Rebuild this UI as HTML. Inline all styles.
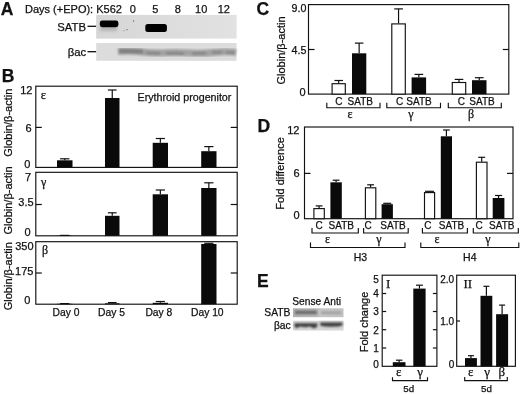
<!DOCTYPE html>
<html><head><meta charset="utf-8"><title>Figure</title>
<style>html,body{margin:0;padding:0;background:#fff}svg{display:block}text{stroke:#111;stroke-width:0.25px}</style></head>
<body>
<svg width="520" height="394" viewBox="0 0 520 394" font-family="Liberation Sans, Arial, Helvetica, sans-serif" fill="#111">
<defs>
<filter id="b1" x="-20%" y="-50%" width="140%" height="200%"><feGaussianBlur stdDeviation="0.6"/></filter>
<filter id="b2" x="-20%" y="-100%" width="140%" height="300%"><feGaussianBlur stdDeviation="1.2"/></filter>
<filter id="n1" x="0" y="0" width="100%" height="100%"><feGaussianBlur stdDeviation="0.4"/></filter>
<filter id="b3" x="-20%" y="-100%" width="140%" height="300%"><feGaussianBlur stdDeviation="1.5"/></filter>
<linearGradient id="gE1" x1="0" x2="1" y1="0" y2="0"><stop offset="0" stop-color="#b2b2b2"/><stop offset="0.45" stop-color="#b8b8b8"/><stop offset="0.55" stop-color="#c6c6c6"/><stop offset="1" stop-color="#c2c2c2"/></linearGradient>
<linearGradient id="gA1" x1="0" x2="1" y1="0" y2="0"><stop offset="0" stop-color="#d6d6d6"/><stop offset="0.5" stop-color="#dcdcdc"/><stop offset="1" stop-color="#e2e2e2"/></linearGradient>
</defs>
<rect width="520" height="394" fill="#fff"/>
<text x="0.8" y="14.6" font-size="17.5" text-anchor="start" font-weight="bold">A</text>
<text x="25" y="13" font-size="11" text-anchor="start">Days (+EPO): K562</text>
<text x="132.8" y="13" font-size="11" text-anchor="middle">0</text>
<text x="155.2" y="13" font-size="11" text-anchor="middle">5</text>
<text x="177.7" y="13" font-size="11" text-anchor="middle">8</text>
<text x="201.2" y="13" font-size="11" text-anchor="middle">10</text>
<text x="223.8" y="13" font-size="11" text-anchor="middle">12</text>
<text x="57.3" y="31" font-size="11.3" text-anchor="start">SATB</text>
<line x1="87.5" y1="26.3" x2="96.5" y2="26.3" stroke="#111" stroke-width="1.3"/>
<text x="67.8" y="55.6" font-size="11.3" text-anchor="start">βac</text>
<line x1="87.5" y1="51.7" x2="96.5" y2="51.7" stroke="#111" stroke-width="1.3"/>
<g filter="url(#n1)">
<rect x="96.2" y="14.9" width="140.4" height="23.7" fill="url(#gA1)"/>
<rect x="96.2" y="43" width="140.4" height="17.8" fill="#dcdcdc"/>
</g>
<g filter="url(#b3)"><rect x="100" y="26" width="17" height="5" fill="#b4b4b4"/></g>
<g filter="url(#b1)">
<rect x="99.8" y="20.6" width="18.6" height="6.6" rx="2.4" fill="#000"/>
<rect x="145.3" y="24" width="21.6" height="8" rx="2.5" fill="#000"/>
<circle cx="133.5" cy="21" r="0.7" fill="#666"/><circle cx="127" cy="29.7" r="0.6" fill="#555"/><circle cx="124" cy="30.8" r="0.5" fill="#777"/>
</g>
<g filter="url(#b2)">
<path d="M118 51.5 Q130 50.5 142 52 T166 52.8 T190 53 T214 52.5 T236 52.5" fill="none" stroke="#a2a2a2" stroke-width="7"/>
<path d="M119 51 L143 51.6" fill="none" stroke="#808080" stroke-width="4.5"/>
<path d="M146 53 L160 53.4 M166 53.2 L184 53.6 M192 53.6 L206 53 M212 52 L222 52.6 M226 52.5 L235 52.8" fill="none" stroke="#858585" stroke-width="2.6"/>
</g>
<text x="1.8" y="82.3" font-size="17.5" text-anchor="start" font-weight="bold">B</text>
<rect x="35.8" y="86.2" width="201.39999999999998" height="81.2" fill="none" stroke="#111" stroke-width="1.15"/>
<line x1="35.8" y1="127.4" x2="41.8" y2="127.4" stroke="#111" stroke-width="1.2"/>
<line x1="230.7" y1="127.4" x2="237.2" y2="127.4" stroke="#111" stroke-width="1.2"/>
<rect x="35.8" y="172.3" width="201.39999999999998" height="63.5" fill="none" stroke="#111" stroke-width="1.15"/>
<line x1="35.8" y1="204.5" x2="41.8" y2="204.5" stroke="#111" stroke-width="1.2"/>
<line x1="230.7" y1="204.5" x2="237.2" y2="204.5" stroke="#111" stroke-width="1.2"/>
<rect x="35.8" y="241.7" width="201.39999999999998" height="62.5" fill="none" stroke="#111" stroke-width="1.15"/>
<line x1="35.8" y1="273" x2="41.8" y2="273" stroke="#111" stroke-width="1.2"/>
<line x1="230.7" y1="273" x2="237.2" y2="273" stroke="#111" stroke-width="1.2"/>
<text x="32.4" y="94.4" font-size="11" text-anchor="end">12</text>
<text x="31.5" y="132.3" font-size="11" text-anchor="end">6</text>
<text x="30.4" y="167.7" font-size="11" text-anchor="end">0</text>
<text x="31" y="180.5" font-size="11" text-anchor="end">7</text>
<text x="33.6" y="206.4" font-size="11" text-anchor="end">3.5</text>
<text x="30.5" y="236.3" font-size="11" text-anchor="end">0</text>
<text x="33.6" y="250.2" font-size="11" text-anchor="end">350</text>
<text x="33.4" y="275.4" font-size="11" text-anchor="end">175</text>
<text x="30.4" y="303.6" font-size="11" text-anchor="end">0</text>
<text transform="translate(11.7,122.7) rotate(-90)" font-size="11" text-anchor="middle">Globin/β-actin</text>
<text transform="translate(11.7,200.4) rotate(-90)" font-size="11" text-anchor="middle">Globin/β-actin</text>
<text transform="translate(11.7,276.2) rotate(-90)" font-size="11" text-anchor="middle">Globin/β-actin</text>
<text x="40.8" y="98.6" font-size="12.5" text-anchor="start" font-family="Liberation Serif, Times New Roman, serif">ε</text>
<text x="41" y="185.5" font-size="12" text-anchor="start" font-family="Liberation Serif, Times New Roman, serif">γ</text>
<text x="42" y="254" font-size="12" text-anchor="start" font-family="Liberation Serif, Times New Roman, serif">β</text>
<text x="137.5" y="100.5" font-size="10.7" text-anchor="start">Erythroid progenitor</text>
<line x1="64.75" y1="158.8" x2="64.75" y2="160.3" stroke="#111" stroke-width="1.2"/>
<line x1="60.1" y1="158.8" x2="69.4" y2="158.8" stroke="#111" stroke-width="1.2"/>
<rect x="57" y="160.3" width="15.5" height="7.099999999999994" fill="#0a0a0a"/>
<line x1="112.25" y1="90" x2="112.25" y2="98" stroke="#111" stroke-width="1.2"/>
<line x1="107.9" y1="90" x2="116.6" y2="90" stroke="#111" stroke-width="1.2"/>
<rect x="105" y="98" width="14.5" height="69.4" fill="#0a0a0a"/>
<line x1="160.35" y1="138.5" x2="160.35" y2="142.8" stroke="#111" stroke-width="1.2"/>
<line x1="155.76" y1="138.5" x2="164.94" y2="138.5" stroke="#111" stroke-width="1.2"/>
<rect x="152.7" y="142.8" width="15.300000000000011" height="24.599999999999994" fill="#0a0a0a"/>
<line x1="208.85" y1="146.6" x2="208.85" y2="151.2" stroke="#111" stroke-width="1.2"/>
<line x1="204.26" y1="146.6" x2="213.44" y2="146.6" stroke="#111" stroke-width="1.2"/>
<rect x="201.2" y="151.2" width="15.300000000000011" height="16.200000000000017" fill="#0a0a0a"/>
<line x1="64.75" y1="235.4" x2="64.75" y2="235.6" stroke="#111" stroke-width="1.2"/>
<line x1="60.1" y1="235.4" x2="69.4" y2="235.4" stroke="#111" stroke-width="1.2"/>
<rect x="57" y="235.6" width="15.5" height="0.20000000000001705" fill="#0a0a0a"/>
<line x1="112.25" y1="212.8" x2="112.25" y2="215.8" stroke="#111" stroke-width="1.2"/>
<line x1="107.9" y1="212.8" x2="116.6" y2="212.8" stroke="#111" stroke-width="1.2"/>
<rect x="105" y="215.8" width="14.5" height="20.0" fill="#0a0a0a"/>
<line x1="160.35" y1="190" x2="160.35" y2="194.3" stroke="#111" stroke-width="1.2"/>
<line x1="155.76" y1="190" x2="164.94" y2="190" stroke="#111" stroke-width="1.2"/>
<rect x="152.7" y="194.3" width="15.300000000000011" height="41.5" fill="#0a0a0a"/>
<line x1="208.85" y1="182.8" x2="208.85" y2="188" stroke="#111" stroke-width="1.2"/>
<line x1="204.26" y1="182.8" x2="213.44" y2="182.8" stroke="#111" stroke-width="1.2"/>
<rect x="201.2" y="188" width="15.300000000000011" height="47.80000000000001" fill="#0a0a0a"/>
<line x1="64.75" y1="303.6" x2="64.75" y2="303.8" stroke="#111" stroke-width="1.2"/>
<line x1="60.1" y1="303.6" x2="69.4" y2="303.6" stroke="#111" stroke-width="1.2"/>
<rect x="57" y="303.8" width="15.5" height="0.39999999999997726" fill="#0a0a0a"/>
<line x1="112.25" y1="302.6" x2="112.25" y2="303.3" stroke="#111" stroke-width="1.2"/>
<line x1="107.9" y1="302.6" x2="116.6" y2="302.6" stroke="#111" stroke-width="1.2"/>
<rect x="105" y="303.3" width="14.5" height="0.8999999999999773" fill="#0a0a0a"/>
<line x1="160.35" y1="301.5" x2="160.35" y2="302.8" stroke="#111" stroke-width="1.2"/>
<line x1="155.76" y1="301.5" x2="164.94" y2="301.5" stroke="#111" stroke-width="1.2"/>
<rect x="152.7" y="302.8" width="15.300000000000011" height="1.3999999999999773" fill="#0a0a0a"/>
<line x1="208.85" y1="243.3" x2="208.85" y2="244" stroke="#111" stroke-width="1.2"/>
<line x1="204.26" y1="243.3" x2="213.44" y2="243.3" stroke="#111" stroke-width="1.2"/>
<rect x="201.2" y="244" width="15.300000000000011" height="60.19999999999999" fill="#0a0a0a"/>
<text x="66" y="316.1" font-size="10.3" text-anchor="middle">Day 0</text>
<text x="111.5" y="316.1" font-size="10.3" text-anchor="middle">Day 5</text>
<text x="158.9" y="316.1" font-size="10.3" text-anchor="middle">Day 8</text>
<text x="207.3" y="316.1" font-size="10.3" text-anchor="middle">Day 10</text>
<text x="256.5" y="14.8" font-size="17.5" text-anchor="start" font-weight="bold">C</text>
<rect x="308.5" y="4.6" width="200.3" height="89.5" fill="none" stroke="#111" stroke-width="1.15"/>
<line x1="308.5" y1="49.5" x2="314.5" y2="49.5" stroke="#111" stroke-width="1.2"/>
<line x1="502.8" y1="49.5" x2="508.8" y2="49.5" stroke="#111" stroke-width="1.2"/>
<text x="306.4" y="12.2" font-size="10.7" text-anchor="end">9.0</text>
<text x="306.4" y="53.9" font-size="10.7" text-anchor="end">4.5</text>
<text x="305.7" y="96" font-size="11" text-anchor="end">0</text>
<text transform="translate(284.6,50.5) rotate(-90)" font-size="11" text-anchor="middle">Globin/β-actin</text>
<line x1="338.70000000000005" y1="80.5" x2="338.70000000000005" y2="83.2" stroke="#111" stroke-width="1.2"/>
<line x1="334.44000000000005" y1="80.5" x2="342.96000000000004" y2="80.5" stroke="#111" stroke-width="1.2"/>
<rect x="332.1" y="83.7" width="13.199999999999989" height="10.399999999999991" fill="#fff" stroke="#111" stroke-width="1.15"/>
<line x1="359.15" y1="43.1" x2="359.15" y2="53.3" stroke="#111" stroke-width="1.2"/>
<line x1="354.85999999999996" y1="43.1" x2="363.44" y2="43.1" stroke="#111" stroke-width="1.2"/>
<rect x="352" y="53.3" width="14.300000000000011" height="40.8" fill="#0a0a0a"/>
<line x1="398.55" y1="8.9" x2="398.55" y2="23.4" stroke="#111" stroke-width="1.2"/>
<line x1="394.2" y1="8.9" x2="402.90000000000003" y2="8.9" stroke="#111" stroke-width="1.2"/>
<rect x="391.8" y="23.9" width="13.5" height="70.19999999999999" fill="#fff" stroke="#111" stroke-width="1.15"/>
<line x1="418.85" y1="74.4" x2="418.85" y2="77.4" stroke="#111" stroke-width="1.2"/>
<line x1="414.5" y1="74.4" x2="423.20000000000005" y2="74.4" stroke="#111" stroke-width="1.2"/>
<rect x="411.6" y="77.4" width="14.5" height="16.69999999999999" fill="#0a0a0a"/>
<line x1="459.0" y1="79.4" x2="459.0" y2="82" stroke="#111" stroke-width="1.2"/>
<line x1="454.68" y1="79.4" x2="463.32" y2="79.4" stroke="#111" stroke-width="1.2"/>
<rect x="452.3" y="82.5" width="13.399999999999977" height="11.599999999999994" fill="#fff" stroke="#111" stroke-width="1.15"/>
<line x1="479.25" y1="77.7" x2="479.25" y2="80.2" stroke="#111" stroke-width="1.2"/>
<line x1="474.9" y1="77.7" x2="483.6" y2="77.7" stroke="#111" stroke-width="1.2"/>
<rect x="472" y="80.2" width="14.5" height="13.899999999999991" fill="#0a0a0a"/>
<polyline points="326.8,102.8 326.8,107.7 380,107.7 380,102.8" fill="none" stroke="#111" stroke-width="1.15"/>
<text x="338.8" y="104.5" font-size="10" text-anchor="middle">C</text>
<text x="360.3" y="104.5" font-size="10" text-anchor="middle">SATB</text>
<text x="350" y="118" font-size="12" text-anchor="middle" font-family="Liberation Serif, Times New Roman, serif">ε</text>
<polyline points="386.8,102.8 386.8,107.7 440.5,107.7 440.5,102.8" fill="none" stroke="#111" stroke-width="1.15"/>
<text x="399.6" y="104.5" font-size="10" text-anchor="middle">C</text>
<text x="419" y="104.5" font-size="10" text-anchor="middle">SATB</text>
<text x="411" y="118" font-size="12" text-anchor="middle" font-family="Liberation Serif, Times New Roman, serif">γ</text>
<polyline points="448.3,102.8 448.3,107.7 501.3,107.7 501.3,102.8" fill="none" stroke="#111" stroke-width="1.15"/>
<text x="461.3" y="104.5" font-size="10" text-anchor="middle">C</text>
<text x="482" y="104.5" font-size="10" text-anchor="middle">SATB</text>
<text x="471" y="118" font-size="12" text-anchor="middle" font-family="Liberation Serif, Times New Roman, serif">β</text>
<text x="257.5" y="131.8" font-size="17.5" text-anchor="start" font-weight="bold">D</text>
<rect x="304.5" y="127" width="208.5" height="91.69999999999999" fill="none" stroke="#111" stroke-width="1.15"/>
<line x1="304.5" y1="173.4" x2="310.5" y2="173.4" stroke="#111" stroke-width="1.2"/>
<line x1="507" y1="173.4" x2="513" y2="173.4" stroke="#111" stroke-width="1.2"/>
<text x="299.5" y="134" font-size="11" text-anchor="end">12</text>
<text x="299.5" y="177.3" font-size="11" text-anchor="end">6</text>
<text x="299.7" y="219.3" font-size="11" text-anchor="end">0</text>
<text transform="translate(284.3,173.5) rotate(-90)" font-size="11" text-anchor="middle">Fold difference</text>
<line x1="319.1" y1="205.9" x2="319.1" y2="208.1" stroke="#111" stroke-width="1.2"/>
<line x1="315.68" y1="205.9" x2="322.52000000000004" y2="205.9" stroke="#111" stroke-width="1.2"/>
<rect x="313.9" y="208.6" width="10.400000000000034" height="10.099999999999994" fill="#fff" stroke="#111" stroke-width="1.15"/>
<line x1="336.1" y1="180.2" x2="336.1" y2="182.3" stroke="#111" stroke-width="1.2"/>
<line x1="332.68" y1="180.2" x2="339.52000000000004" y2="180.2" stroke="#111" stroke-width="1.2"/>
<rect x="330.4" y="182.3" width="11.400000000000034" height="36.39999999999998" fill="#0a0a0a"/>
<line x1="370.6" y1="184.8" x2="370.6" y2="187.3" stroke="#111" stroke-width="1.2"/>
<line x1="367.18" y1="184.8" x2="374.02000000000004" y2="184.8" stroke="#111" stroke-width="1.2"/>
<rect x="365.4" y="187.8" width="10.400000000000034" height="30.899999999999977" fill="#fff" stroke="#111" stroke-width="1.15"/>
<line x1="387.25" y1="203.3" x2="387.25" y2="204.2" stroke="#111" stroke-width="1.2"/>
<line x1="383.25" y1="203.3" x2="391.25" y2="203.3" stroke="#111" stroke-width="1.2"/>
<rect x="381.6" y="204.2" width="11.299999999999955" height="14.5" fill="#0a0a0a"/>
<line x1="429.55" y1="191.3" x2="429.55" y2="192.1" stroke="#111" stroke-width="1.2"/>
<line x1="425.05" y1="191.3" x2="434.05" y2="191.3" stroke="#111" stroke-width="1.2"/>
<rect x="424.5" y="192.6" width="10.100000000000023" height="26.099999999999994" fill="#fff" stroke="#111" stroke-width="1.15"/>
<line x1="446.4" y1="130" x2="446.4" y2="136.3" stroke="#111" stroke-width="1.2"/>
<line x1="443.03999999999996" y1="130" x2="449.76" y2="130" stroke="#111" stroke-width="1.2"/>
<rect x="440.8" y="136.3" width="11.199999999999989" height="82.39999999999998" fill="#0a0a0a"/>
<line x1="481.7" y1="157.3" x2="481.7" y2="161.7" stroke="#111" stroke-width="1.2"/>
<line x1="478.21999999999997" y1="157.3" x2="485.18" y2="157.3" stroke="#111" stroke-width="1.2"/>
<rect x="476.4" y="162.2" width="10.600000000000023" height="56.5" fill="#fff" stroke="#111" stroke-width="1.15"/>
<line x1="498.54999999999995" y1="195.5" x2="498.54999999999995" y2="198" stroke="#111" stroke-width="1.2"/>
<line x1="495.03999999999996" y1="195.5" x2="502.05999999999995" y2="195.5" stroke="#111" stroke-width="1.2"/>
<rect x="492.7" y="198" width="11.699999999999989" height="20.69999999999999" fill="#0a0a0a"/>
<polyline points="312,228 312,233 358.3,233 358.3,228" fill="none" stroke="#111" stroke-width="1.15"/>
<text x="319" y="229" font-size="10" text-anchor="middle">C</text>
<text x="341.3" y="229" font-size="10" text-anchor="middle">SATB</text>
<text x="327.5" y="243" font-size="12" text-anchor="middle" font-family="Liberation Serif, Times New Roman, serif">ε</text>
<polyline points="363.6,228 363.6,233 408.2,233 408.2,228" fill="none" stroke="#111" stroke-width="1.15"/>
<text x="368" y="229" font-size="10" text-anchor="middle">C</text>
<text x="393" y="229" font-size="10" text-anchor="middle">SATB</text>
<text x="379" y="243" font-size="12" text-anchor="middle" font-family="Liberation Serif, Times New Roman, serif">γ</text>
<polyline points="422.4,228 422.4,233 467.4,233 467.4,228" fill="none" stroke="#111" stroke-width="1.15"/>
<text x="427.8" y="229" font-size="10" text-anchor="middle">C</text>
<text x="451.5" y="229" font-size="10" text-anchor="middle">SATB</text>
<text x="437" y="243" font-size="12" text-anchor="middle" font-family="Liberation Serif, Times New Roman, serif">ε</text>
<polyline points="473.3,228 473.3,233 518.3,233 518.3,228" fill="none" stroke="#111" stroke-width="1.15"/>
<text x="479" y="229" font-size="10" text-anchor="middle">C</text>
<text x="501.8" y="229" font-size="10" text-anchor="middle">SATB</text>
<text x="488" y="243" font-size="12" text-anchor="middle" font-family="Liberation Serif, Times New Roman, serif">γ</text>
<polyline points="310.5,242.5 310.5,247.5 405,247.5 405,242.5" fill="none" stroke="#111" stroke-width="1.15"/>
<polyline points="420.8,242.5 420.8,247.5 518.8,247.5 518.8,242.5" fill="none" stroke="#111" stroke-width="1.15"/>
<text x="360.5" y="260.5" font-size="10.5" text-anchor="middle">H3</text>
<text x="469.8" y="260.5" font-size="10.5" text-anchor="middle">H4</text>
<text x="257" y="287.3" font-size="17.5" text-anchor="start" font-weight="bold">E</text>
<text x="292.3" y="305" font-size="10.2" text-anchor="start">Sense Anti</text>
<text x="290.5" y="316.2" font-size="10.3" text-anchor="end">SATB</text>
<text x="290.7" y="328.6" font-size="10.3" text-anchor="end">βac</text>
<g filter="url(#n1)">
<rect x="293" y="308.3" width="50.5" height="8.9" fill="url(#gE1)"/>
<rect x="293" y="320.7" width="50.5" height="9.8" fill="#d6d6d6"/>
</g>
<g filter="url(#b2)">
<rect x="295" y="310.6" width="22" height="3.6" fill="#6a6a6a"/>
<rect x="321" y="311.6" width="20" height="2.4" fill="#9c9c9c"/>
<path d="M294.5 323.2 H317.5 L317 327 L314 328.4 L310 326.6 L305 327.2 L300 326.4 L296.5 328.2 L294.5 326.5 Z" fill="#3c3c3c"/>
<path d="M320 322.6 H342.5 L342.5 325.6 L338 326.4 L331 326.8 L325 326.6 L320.5 325.8 Z" fill="#3c3c3c"/>
</g>
<rect x="382.2" y="275.2" width="54.69999999999999" height="91.10000000000002" fill="none" stroke="#111" stroke-width="1.15"/>
<line x1="382.2" y1="293.5" x2="386.2" y2="293.5" stroke="#111" stroke-width="1.2"/>
<line x1="432.9" y1="293.5" x2="436.9" y2="293.5" stroke="#111" stroke-width="1.2"/>
<line x1="382.2" y1="311.5" x2="386.2" y2="311.5" stroke="#111" stroke-width="1.2"/>
<line x1="432.9" y1="311.5" x2="436.9" y2="311.5" stroke="#111" stroke-width="1.2"/>
<line x1="382.2" y1="329.7" x2="386.2" y2="329.7" stroke="#111" stroke-width="1.2"/>
<line x1="432.9" y1="329.7" x2="436.9" y2="329.7" stroke="#111" stroke-width="1.2"/>
<line x1="382.2" y1="348" x2="386.2" y2="348" stroke="#111" stroke-width="1.2"/>
<line x1="432.9" y1="348" x2="436.9" y2="348" stroke="#111" stroke-width="1.2"/>
<text x="378.7" y="283.3" font-size="10" text-anchor="end">5</text>
<text x="378.7" y="297.4" font-size="10" text-anchor="end">4</text>
<text x="378.7" y="315.3" font-size="10" text-anchor="end">3</text>
<text x="378.7" y="333.5" font-size="10" text-anchor="end">2</text>
<text x="378.7" y="351.8" font-size="10" text-anchor="end">1</text>
<text x="378.7" y="367.6" font-size="10" text-anchor="end">0</text>
<text transform="translate(367.7,322) rotate(-90)" font-size="11" text-anchor="middle">Fold change</text>
<text x="386" y="288" font-size="13" text-anchor="start" font-family="Liberation Serif, Times New Roman, serif">I</text>
<line x1="399.15" y1="360.2" x2="399.15" y2="362.2" stroke="#111" stroke-width="1.2"/>
<line x1="395.9" y1="360.2" x2="402.4" y2="360.2" stroke="#111" stroke-width="1.2"/>
<rect x="392.8" y="362.2" width="12.699999999999989" height="4.100000000000023" fill="#0a0a0a"/>
<line x1="419.45000000000005" y1="285.2" x2="419.45000000000005" y2="288.6" stroke="#111" stroke-width="1.2"/>
<line x1="415.95000000000005" y1="285.2" x2="422.95000000000005" y2="285.2" stroke="#111" stroke-width="1.2"/>
<rect x="413.3" y="288.6" width="12.300000000000011" height="77.69999999999999" fill="#0a0a0a"/>
<text x="398.8" y="376.2" font-size="13" text-anchor="middle" font-family="Liberation Serif, Times New Roman, serif">ε</text>
<text x="420.2" y="376.2" font-size="13" text-anchor="middle" font-family="Liberation Serif, Times New Roman, serif">γ</text>
<polyline points="392.5,377.3 392.5,380.6 427.5,380.6 427.5,377.3" fill="none" stroke="#111" stroke-width="1.15"/>
<text x="408.7" y="391.7" font-size="9.8" text-anchor="middle">5d</text>
<rect x="456.7" y="275.2" width="58.69999999999999" height="91.10000000000002" fill="none" stroke="#111" stroke-width="1.15"/>
<line x1="456.7" y1="321" x2="460.0" y2="321" stroke="#111" stroke-width="1.2"/>
<text x="454.2" y="283" font-size="10" text-anchor="end">2.0</text>
<text x="454.2" y="324.7" font-size="10" text-anchor="end">1.0</text>
<text x="454.2" y="368" font-size="10" text-anchor="end">0</text>
<text x="463.5" y="288.3" font-size="13" text-anchor="start" font-family="Liberation Serif, Times New Roman, serif">II</text>
<line x1="470.95" y1="355.7" x2="470.95" y2="358.1" stroke="#111" stroke-width="1.2"/>
<line x1="467.95" y1="355.7" x2="473.95" y2="355.7" stroke="#111" stroke-width="1.2"/>
<rect x="465" y="358.1" width="11.899999999999977" height="8.199999999999989" fill="#0a0a0a"/>
<line x1="486.4" y1="286.3" x2="486.4" y2="295.8" stroke="#111" stroke-width="1.2"/>
<line x1="483.4" y1="286.3" x2="489.4" y2="286.3" stroke="#111" stroke-width="1.2"/>
<rect x="480.5" y="295.8" width="11.800000000000011" height="70.5" fill="#0a0a0a"/>
<line x1="502.1" y1="305.1" x2="502.1" y2="314.2" stroke="#111" stroke-width="1.2"/>
<line x1="499.1" y1="305.1" x2="505.1" y2="305.1" stroke="#111" stroke-width="1.2"/>
<rect x="496.1" y="314.2" width="12.0" height="52.10000000000002" fill="#0a0a0a"/>
<text x="470.8" y="376.2" font-size="13" text-anchor="middle" font-family="Liberation Serif, Times New Roman, serif">ε</text>
<text x="487.2" y="376.2" font-size="13" text-anchor="middle" font-family="Liberation Serif, Times New Roman, serif">γ</text>
<text x="501.9" y="376" font-size="13" text-anchor="middle" font-family="Liberation Serif, Times New Roman, serif">β</text>
<polyline points="464.7,377 464.7,380.6 507.3,380.6 507.3,377" fill="none" stroke="#111" stroke-width="1.15"/>
<text x="486.4" y="391.8" font-size="9.8" text-anchor="middle">5d</text>
</svg>
</body></html>
